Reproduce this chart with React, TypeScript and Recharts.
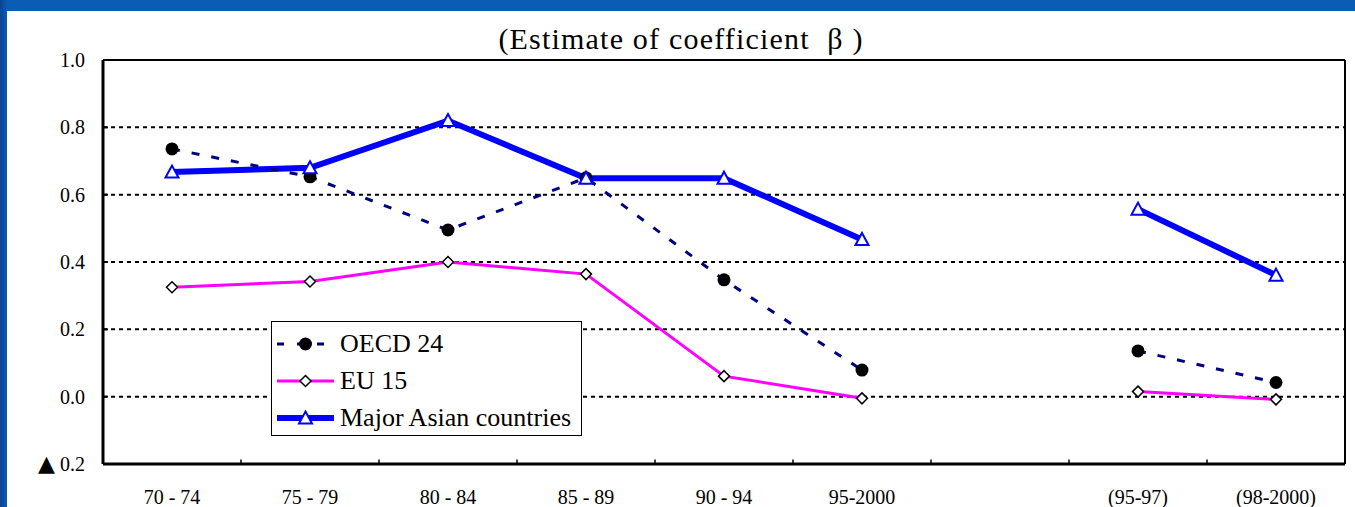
import {
  CartesianGrid,
  ComposedChart,
  Legend,
  Line,
  ReferenceLine,
  XAxis,
  YAxis,
} from 'recharts';

const categories = ['70 - 74', '75 - 79', '80 - 84', '85 - 89', '90 - 94', '95-2000', '', '(95-97)', '(98-2000)'];
const oecd24 = [0.736, 0.653, 0.495, 0.65, 0.347, 0.079, null, 0.136, 0.042];
const eu15 = [0.325, 0.342, 0.4, 0.364, 0.061, -0.005, null, 0.015, -0.008];
const majorAsian = [0.667, 0.68, 0.82, 0.649, 0.649, 0.467, null, 0.557, 0.361];
const seriesNames = ['OECD 24', 'EU 15', 'Major Asian countries'];
const yTicks = [-0.2, 0, 0.2, 0.4, 0.6, 0.8, 1.0];
const yTickLabels = ['▲ 0.2', '0.0', '0.2', '0.4', '0.6', '0.8', '1.0'];

const rows = categories.map((cat, i) => ({
  x: i + 0.5,
  cat,
  oecd: oecd24[i],
  eu: eu15[i],
  asia: majorAsian[i],
}));

const xTicks = categories.map((_, i) => i + 0.5);
const boundaries = categories.slice(1).map((_, i) => i + 1);

const FONT = '"Liberation Serif", "Times New Roman", serif';
const OECD_COLOR = '#000080';
const EU_COLOR = '#ff00ff';
const ASIA_COLOR = '#0000ff';

function circleMarker(props: any) {
  const { cx, cy, value, index } = props;
  if (value == null || cy == null) return <g key={`c-${index}`} />;
  return <circle key={`c-${index}`} cx={cx} cy={cy} r={6.5} fill="#000" />;
}

function diamondMarker(props: any) {
  const { cx, cy, value, index } = props;
  if (value == null || cy == null) return <g key={`d-${index}`} />;
  const s = 5.5;
  return (
    <path
      key={`d-${index}`}
      d={`M${cx},${cy - s} L${cx + s},${cy} L${cx},${cy + s} L${cx - s},${cy} Z`}
      fill="#fff"
      stroke="#000"
      strokeWidth={1.5}
    />
  );
}

function triangleMarker(props: any) {
  const { cx, cy, value, index } = props;
  if (value == null || cy == null) return <g key={`t-${index}`} />;
  return (
    <path
      key={`t-${index}`}
      d={`M${cx},${cy - 6.5} L${cx + 6.5},${cy + 5.5} L${cx - 6.5},${cy + 5.5} Z`}
      fill="#fff"
      stroke={ASIA_COLOR}
      strokeWidth={2}
    />
  );
}

// y labels: negative values carry a large ▲ as in the source slide
function YTick(props: any) {
  const { x, y, payload } = props;
  const i = yTicks.findIndex((t) => Math.abs(t - payload.value) < 1e-6);
  const label = yTickLabels[i] ?? '';
  const neg = label.startsWith('▲');
  return (
    <text x={x} y={y} dy="0.355em" textAnchor="end" fontSize={20} fill="#000" fontFamily={FONT}>
      {neg && (
        <tspan fontSize={22} fontFamily="DejaVu Sans">
          ▲
        </tspan>
      )}
      <tspan>{neg ? label.slice(1) : label}</tspan>
    </text>
  );
}

function LegendSample({ index }: { index: number }) {
  return (
    <svg width={57} height={20} style={{ display: 'block', flex: 'none' }}>
      {index === 0 && (
        <>
          <line x1={0} y1={10} x2={57} y2={10} stroke={OECD_COLOR} strokeWidth={3} strokeDasharray="7 13" />
          {circleMarker({ cx: 28.5, cy: 10, value: 1, index: 0 })}
        </>
      )}
      {index === 1 && (
        <>
          <line x1={0} y1={10} x2={57} y2={10} stroke={EU_COLOR} strokeWidth={3} />
          {diamondMarker({ cx: 28.5, cy: 10, value: 1, index: 0 })}
        </>
      )}
      {index === 2 && (
        <>
          <line x1={0} y1={10} x2={57} y2={10} stroke={ASIA_COLOR} strokeWidth={6} strokeLinecap="round" />
          {triangleMarker({ cx: 28.5, cy: 10, value: 1, index: 0 })}
        </>
      )}
    </svg>
  );
}

function LegendBox() {
  return (
    <div
      style={{
        width: 311,
        height: 115,
        boxSizing: 'border-box',
        border: '1px solid #000',
        background: '#fff',
        paddingTop: 3,
        fontFamily: FONT,
        fontSize: 26,
        color: '#000',
      }}
    >
      {seriesNames.map((name, i) => (
        <div key={name} style={{ display: 'flex', alignItems: 'center', height: 37 }}>
          <div style={{ width: 5 }} />
          <LegendSample index={i} />
          <span style={{ marginLeft: 6, whiteSpace: 'nowrap', lineHeight: '37px' }}>{name}</span>
        </div>
      ))}
    </div>
  );
}

export default function App() {
  return (
    <div
      style={{
        position: 'fixed',
        left: 0,
        top: 0,
        width: 1355,
        height: 507,
        background: 'linear-gradient(90deg, #0a448f 0px, #0b5cb5 7px, #0b5cb5 100%)',
        overflow: 'hidden',
      }}
    >
      <div
        style={{
          position: 'absolute',
          left: 7,
          top: 11,
          width: 1348,
          height: 496,
          background: '#fff',
        }}
      >
        <div
          style={{
            position: 'absolute',
            left: 0,
            top: 13,
            width: 1348,
            textAlign: 'center',
            fontFamily: FONT,
            fontSize: 30,
            lineHeight: '29px',
            letterSpacing: 1.2,
            whiteSpace: 'pre',
            color: '#000',
          }}
        >
          {'(Estimate of coefficient  β )'}
        </div>
        <ComposedChart
          width={1348}
          height={496}
          data={rows}
          margin={{ top: 49, right: 10, left: 0, bottom: 0 }}
        >
          <CartesianGrid
            horizontal
            vertical={false}
            stroke="#000"
            strokeWidth={2}
            strokeDasharray="4 4"
          />
          <XAxis
            type="number"
            dataKey="x"
            domain={[0, categories.length]}
            ticks={xTicks}
            interval={0}
            tickFormatter={(v: number) => categories[Math.round(v - 0.5)]}
            tick={{ fontSize: 20, fill: '#000', fontFamily: FONT }}
            tickLine={false}
            tickSize={0}
            tickMargin={26}
            axisLine={{ stroke: '#000', strokeWidth: 3 }}
            height={43}
          />
          <YAxis
            type="number"
            domain={[-0.2, 1.0]}
            ticks={yTicks}
            interval={0}
            tick={<YTick />}
            tickLine={false}
            tickSize={0}
            tickMargin={18}
            axisLine={{ stroke: '#000', strokeWidth: 3 }}
            width={96}
          />
          <ReferenceLine y={1.0} stroke="#000" strokeWidth={2} />
          <ReferenceLine x={categories.length} stroke="#000" strokeWidth={2} />
          {boundaries.map((b) => (
            <ReferenceLine
              key={`xb-${b}`}
              segment={[
                { x: b, y: -0.2 },
                { x: b, y: -0.187 },
              ]}
              stroke="#000"
              strokeWidth={1.5}
            />
          ))}
          {yTicks.slice(1, -1).map((v) => (
            <ReferenceLine
              key={`yt-${v}`}
              segment={[
                { x: 0, y: v },
                { x: 0.036, y: v },
              ]}
              stroke="#000"
              strokeWidth={2}
            />
          ))}
          <Line
            dataKey="eu"
            stroke={EU_COLOR}
            strokeWidth={3}
            dot={false}
            activeDot={false}
            isAnimationActive={false}
          />
          <Line
            dataKey="asia"
            stroke={ASIA_COLOR}
            strokeWidth={6}
            dot={false}
            activeDot={false}
            isAnimationActive={false}
          />
          <Line
            dataKey="oecd"
            stroke={OECD_COLOR}
            strokeWidth={3}
            strokeDasharray="8 12"
            dot={false}
            activeDot={false}
            isAnimationActive={false}
          />
          <Line
            dataKey="oecd"
            stroke="none"
            dot={circleMarker}
            activeDot={false}
            legendType="none"
            isAnimationActive={false}
          />
          <Line
            dataKey="eu"
            stroke="none"
            dot={diamondMarker}
            activeDot={false}
            legendType="none"
            isAnimationActive={false}
          />
          <Line
            dataKey="asia"
            stroke="none"
            dot={triangleMarker}
            activeDot={false}
            legendType="none"
            isAnimationActive={false}
          />
          <Legend
            layout="horizontal"
            verticalAlign="middle"
            align="center"
            content={() => <LegendBox />}
            wrapperStyle={{ left: 264, top: 310, width: 311, height: 115 }}
          />
        </ComposedChart>
      </div>
    </div>
  );
}
